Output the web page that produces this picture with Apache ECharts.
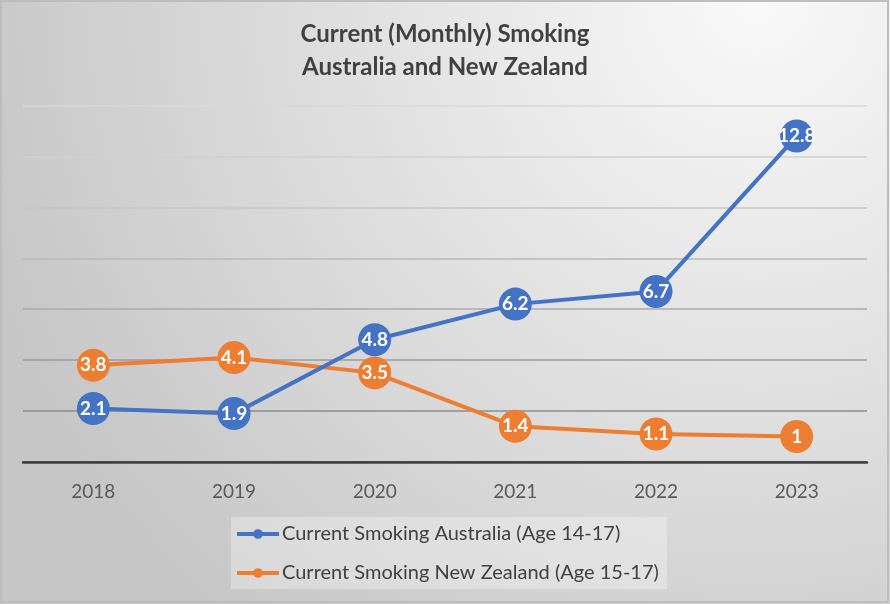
<!DOCTYPE html>
<html>
<head>
<meta charset="utf-8">
<script src="https://cdn.jsdelivr.net/npm/echarts@6/dist/echarts.min.js"></script>
<style>
  html, body { margin: 0; padding: 0; }
  #main { width: 890px; height: 604px; }
</style>
</head>
<body>
<div id="main"></div>
<script>
var years = ['2018', '2019', '2020', '2021', '2022', '2023'];
var australia = [2.1, 1.9, 4.8, 6.2, 6.7, 12.8];
var newZealand = [3.8, 4.1, 3.5, 1.4, 1.1, 1];
var seriesNames = ['Current Smoking Australia (Age 14-17)', 'Current Smoking New Zealand (Age 15-17)'];

var myChart = echarts.init(document.getElementById('main'));

// gridlines get lighter toward the top, like the original
var gridColors = ['#404040', '#8d8d8d', '#9b9b9b', '#aaaaaa', '#b9b9b9', '#c6c6c6', '#d0d0d0', '#d9d9d9'];

var labelStyle = {
  show: true,
  position: 'inside',
  color: '#fff',
  fontWeight: 'bold',
  fontSize: 19,
  fontFamily: 'Lato'
};

var option = {
  backgroundColor: {
    type: 'radial', x: 0.85, y: 0, r: 1.35,
    colorStops: [
      { offset: 0, color: '#f9f9f9' },
      { offset: 1, color: '#c6c6c6' }
    ]
  },
  textStyle: { fontFamily: 'Lato' },
  graphic: [{
    type: 'rect',
    shape: { x: 1, y: 1, width: 887, height: 601 },
    style: { fill: 'none', stroke: '#bdbdbd', lineWidth: 2 },
    silent: true
  }],
  title: {
    text: 'Current (Monthly) Smoking\nAustralia and New Zealand',
    left: 'center',
    top: 13,
    textStyle: { fontSize: 24, fontWeight: 'bold', color: '#404040', lineHeight: 33, fontFamily: 'Lato' }
  },
  legend: {
    data: seriesNames,
    orient: 'vertical',
    left: 231,
    top: 517,
    padding: [5, 8, 4, 4],
    itemGap: 15,
    itemWidth: 42,
    itemHeight: 12,
    lineStyle: { width: 4 },
    backgroundColor: 'rgba(255,255,255,0.3)',
    textStyle: { fontSize: 20, color: '#404040', lineHeight: 24, padding: [0, 0, 0, -2], fontFamily: 'Lato' }
  },
  grid: { left: 23, right: 23, top: 105.5, bottom: 142, containLabel: false },
  xAxis: {
    type: 'category',
    data: years,
    boundaryGap: true,
    axisLine: { lineStyle: { color: '#404040', width: 2.5 } },
    axisTick: { show: false },
    axisLabel: { fontSize: 19, color: '#595959', margin: 20, fontFamily: 'Lato' }
  },
  yAxis: {
    type: 'value',
    min: 0,
    max: 14,
    interval: 2,
    axisLabel: { show: false },
    axisLine: { show: false },
    axisTick: { show: false },
    splitLine: { lineStyle: { color: gridColors, width: 1.5 } }
  },
  series: [
    {
      name: seriesNames[0],
      type: 'line',
      data: australia,
      symbol: 'circle',
      symbolSize: 33,
      color: '#4472c4',
      lineStyle: { width: 4 },
      label: labelStyle,
      z: 3
    },
    {
      name: seriesNames[1],
      type: 'line',
      data: newZealand,
      symbol: 'circle',
      symbolSize: 33,
      color: '#ed7d31',
      lineStyle: { width: 4 },
      label: labelStyle,
      z: 2
    }
  ]
};

myChart.setOption(option);
</script>
</body>
</html>
